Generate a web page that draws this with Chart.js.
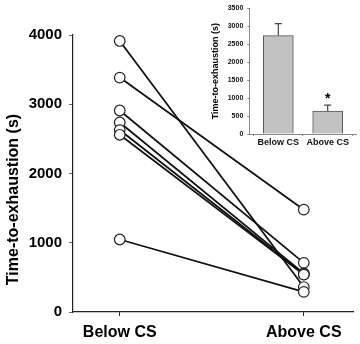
<!DOCTYPE html>
<html><head><meta charset="utf-8">
<script src="https://cdn.jsdelivr.net/npm/chart.js@4.4.1/dist/chart.umd.min.js"></script>
<style>
html,body{margin:0;padding:0;background:#fff;}
#wrap{position:relative;width:360px;height:344px;overflow:hidden;}
#main{position:absolute;left:0;top:0;}
#inset{position:absolute;left:200px;top:0;}
</style></head><body>
<div id="wrap">
<canvas id="main" width="360" height="344"></canvas>
<canvas id="inset" width="160" height="160"></canvas>
</div>
<script>
// ---- data ----
const categories = ['Below CS', 'Above CS'];
const belowCS = [3914, 3385, 2910, 2737, 2627, 2559, 1047];
const aboveCS = [360, 1478, 710, 557, 545, 540, 290];
const mainYTicks = [0, 1000, 2000, 3000, 4000];
const insetMeans = [2738, 640];
const insetSE = [335, 162];
const insetYTicks = [0, 500, 1000, 1500, 2000, 2500, 3000, 3500];
const insetMarks = ['', '*'];
const yTitle = 'Time-to-exhaustion (s)';

const FONT = "'Liberation Sans', Arial, Helvetica, sans-serif";

// ---- main chart ----
const lineSets = belowCS.map((b, i) => ({
  data: [{x: 0, y: b}, {x: 1, y: aboveCS[i]}],
  borderColor: '#111',
  borderWidth: 1.8,
  pointRadius: 0,
  fill: false,
  order: 2
}));
const pointSet = {
  data: belowCS.map(v => ({x: 0, y: v})).concat(aboveCS.map(v => ({x: 1, y: v}))),
  showLine: false,
  pointRadius: 5.3,
  pointBorderWidth: 1.2,
  pointBackgroundColor: '#fff',
  pointBorderColor: '#222',
  order: 1
};

const mainTitlePlugin = {
  id: 'mainYTitle',
  afterDraw(chart) {
    const ctx = chart.ctx;
    ctx.save();
    ctx.translate(13.5, 199.5);
    ctx.rotate(-Math.PI / 2);
    ctx.font = 'bold 16px ' + FONT;
    ctx.fillStyle = '#000';
    ctx.textAlign = 'center';
    ctx.textBaseline = 'middle';
    ctx.fillText(yTitle, 0, 0);
    ctx.restore();
  }
};

new Chart(document.getElementById('main'), {
  type: 'line',
  data: { datasets: lineSets.concat([pointSet]) },
  options: {
    responsive: false,
    animation: false,
    clip: false,
    layout: { padding: { top: 35, right: 5, left: 0, bottom: 0 } },
    plugins: { legend: { display: false }, tooltip: { enabled: false } },
    scales: {
      x: {
        type: 'linear', min: -0.254, max: 1.27,
        afterBuildTicks: s => { s.ticks = categories.map((c, i) => ({ value: i })); },
        afterFit: s => { s.height = 32; },
        ticks: {
          callback: v => categories[v],
          font: { family: FONT, size: 16, weight: 'bold' },
          color: '#000', padding: 7, maxRotation: 0
        },
        grid: { drawOnChartArea: false, drawTicks: true, tickLength: 4, color: '#222', tickWidth: 1 },
        border: { color: '#222', width: 1.2 }
      },
      y: {
        min: 0, max: 4000,
        afterBuildTicks: s => { s.ticks = mainYTicks.map(v => ({ value: v })); },
        afterFit: s => { s.width = 73; },
        ticks: {
          callback: v => String(v),
          font: { family: FONT, size: 15, weight: 'bold' },
          color: '#000', padding: 7
        },
        grid: { drawOnChartArea: false, drawTicks: true, tickLength: 4, color: '#666' },
        border: { color: '#222', width: 1.2 }
      }
    }
  },
  plugins: [mainTitlePlugin]
});

// ---- inset chart ----
const errPlugin = {
  id: 'errBars',
  afterDatasetsDraw(chart) {
    const ctx = chart.ctx;
    const meta = chart.getDatasetMeta(0);
    const ys = chart.scales.y;
    ctx.save();
    meta.data.forEach((bar, i) => {
      const top = ys.getPixelForValue(insetMeans[i] + insetSE[i]);
      ctx.strokeStyle = '#444';
      ctx.lineWidth = 1.2;
      ctx.beginPath();
      ctx.moveTo(bar.x, bar.y);
      ctx.lineTo(bar.x, top);
      ctx.moveTo(bar.x - 3.5, top);
      ctx.lineTo(bar.x + 3.5, top);
      ctx.stroke();
      if (insetMarks[i]) {
        ctx.fillStyle = '#000';
        ctx.font = 'bold 14px ' + FONT;
        ctx.textAlign = 'center';
        ctx.textBaseline = 'alphabetic';
        ctx.fillText(insetMarks[i], bar.x, top - 2.5);
      }
    });
    ctx.restore();
  }
};

new Chart(document.getElementById('inset'), {
  type: 'bar',
  data: {
    datasets: [{
      data: insetMeans.map((m, i) => ({ x: i, y: m })),
      backgroundColor: '#c2c2c2',
      borderColor: '#555',
      borderWidth: 1,
      barThickness: 30
    }]
  },
  options: {
    responsive: false,
    animation: false,
    layout: { padding: { top: 6, right: 4, left: 0, bottom: 0 } },
    plugins: { legend: { display: false }, tooltip: { enabled: false } },
    scales: {
      x: {
        type: 'linear', min: -0.587, max: 1.573, offset: false,
        afterBuildTicks: s => { s.ticks = categories.map((c, i) => ({ value: i })); },
        afterFit: s => { s.height = 26; },
        ticks: {
          callback: v => categories[v],
          font: { family: FONT, size: 9, weight: 'bold' },
          color: '#111', padding: 1, maxRotation: 0
        },
        grid: { drawOnChartArea: false, drawTicks: true, tickLength: 2, color: '#888' },
        border: { color: '#888', width: 1 }
      },
      y: {
        min: 0, max: 3500,
        afterBuildTicks: s => { s.ticks = insetYTicks.map(v => ({ value: v })); },
        afterFit: s => { s.width = 49.3; },
        ticks: {
          callback: v => String(v),
          font: { family: FONT, size: 7, weight: 'bold' },
          color: '#111', padding: 4
        },
        title: {
          display: true, text: yTitle,
          font: { family: FONT, size: 9, weight: 'bold' },
          color: '#000', padding: { top: 10.6, bottom: 0 }
        },
        grid: { drawOnChartArea: false, drawTicks: true, tickLength: 2, color: '#888' },
        border: { color: '#888', width: 1 }
      }
    }
  },
  plugins: [errPlugin]
});
</script>
</body></html>
